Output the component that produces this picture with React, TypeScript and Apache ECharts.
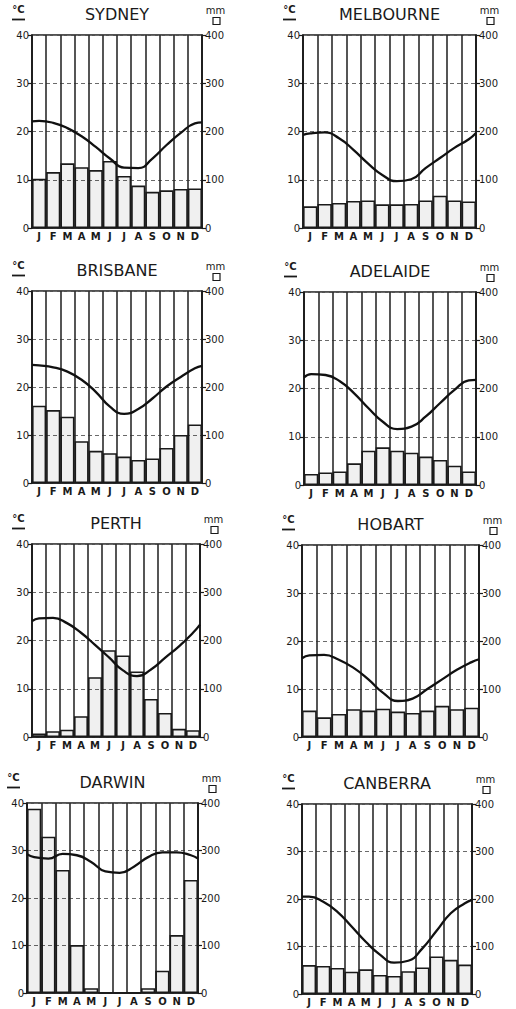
import React, { useEffect, useRef } from 'react';
import * as echarts from 'echarts';

const months = ['J', 'F', 'M', 'A', 'M', 'J', 'J', 'A', 'S', 'O', 'N', 'D'];

const sydneyRain = [102, 116, 134, 126, 120, 139, 108, 88, 75, 78, 81, 82];
const sydneyTemp = [22.2, 21.8, 20.7, 19.0, 16.8, 14.4, 12.5, 12.4, 14.4, 17.2, 19.7, 21.7];
const sydneyEnds = [22.1, 21.9];

const melbourneRain = [45, 50, 52, 56, 57, 49, 49, 50, 57, 67, 57, 55];
const melbourneTemp = [19.6, 19.8, 18.6, 16.2, 13.4, 11.0, 9.7, 10.1, 12.4, 14.5, 16.6, 18.4];
const melbourneEnds = [19.3, 19.7];

const brisbaneRain = [161, 152, 138, 87, 67, 62, 55, 48, 51, 73, 100, 122];
const brisbaneTemp = [24.5, 24.1, 23.2, 21.5, 19.0, 15.9, 14.4, 15.4, 17.6, 20.1, 22.1, 23.9];
const brisbaneEnds = [24.6, 24.4];

const adelaideRain = [23, 26, 28, 45, 71, 78, 71, 67, 59, 52, 40, 28];
const adelaideTemp = [23.0, 22.8, 21.5, 19.0, 15.9, 13.1, 11.6, 12.1, 14.2, 17.0, 19.7, 21.7];
const adelaideEnds = [22.3, 21.8];

const perthRain = [7, 12, 15, 43, 124, 180, 169, 136, 79, 50, 17, 14];
const perthTemp = [24.6, 24.7, 23.6, 21.6, 19.1, 16.5, 13.8, 12.6, 14.0, 16.4, 18.8, 21.6];
const perthEnds = [24.0, 23.3];

const hobartRain = [55, 41, 48, 58, 55, 59, 53, 50, 55, 65, 58, 61];
const hobartTemp = [17.0, 17.1, 16.1, 14.4, 12.0, 9.2, 7.5, 8.0, 10.0, 12.0, 14.0, 15.6];
const hobartEnds = [16.4, 16.2];

const darwinRain = [388, 329, 259, 101, 10, 0, 0, 0, 10, 47, 122, 238];
const darwinTemp = [28.6, 28.3, 29.3, 29.0, 27.6, 25.6, 25.3, 26.6, 28.6, 29.6, 29.6, 29.0];
const darwinEnds = [29.2, 28.3];

const canberraRain = [61, 59, 55, 47, 52, 40, 38, 48, 56, 79, 72, 62];
const canberraTemp = [20.5, 19.4, 17.3, 14.2, 11.0, 8.3, 6.6, 7.0, 9.6, 13.3, 17.0, 19.1];
const canberraEnds = [20.5, 19.8];

const cities = [
  { name: 'SYDNEY', rain: sydneyRain, temp: sydneyTemp, ends: sydneyEnds },
  { name: 'MELBOURNE', rain: melbourneRain, temp: melbourneTemp, ends: melbourneEnds },
  { name: 'BRISBANE', rain: brisbaneRain, temp: brisbaneTemp, ends: brisbaneEnds },
  { name: 'ADELAIDE', rain: adelaideRain, temp: adelaideTemp, ends: adelaideEnds },
  { name: 'PERTH', rain: perthRain, temp: perthTemp, ends: perthEnds },
  { name: 'HOBART', rain: hobartRain, temp: hobartTemp, ends: hobartEnds },
  { name: 'DARWIN', rain: darwinRain, temp: darwinTemp, ends: darwinEnds },
  { name: 'CANBERRA', rain: canberraRain, temp: canberraTemp, ends: canberraEnds },
];

const layouts = [
  { left: 32, top: 35, width: 170, height: 193 },
  { left: 303, top: 35, width: 173, height: 193 },
  { left: 32, top: 291, width: 170, height: 192 },
  { left: 304, top: 292, width: 172, height: 193 },
  { left: 32, top: 544, width: 168, height: 193 },
  { left: 302, top: 545, width: 177, height: 192 },
  { left: 27, top: 803, width: 171, height: 190 },
  { left: 302, top: 804, width: 170, height: 190 },
];

const INK = '#1a1a1a';
const FONT = '"DejaVu Sans", "Noto Sans", sans-serif';

function textEl(text: string, x: number, y: number, font: string) {
  return {
    type: 'text',
    x,
    y,
    silent: true,
    style: {
      text,
      font,
      fill: INK,
      textAlign: 'center',
      textVerticalAlign: 'middle',
      align: 'center',
      verticalAlign: 'middle',
    },
  };
}

export default function App() {
  const ref = useRef<HTMLDivElement>(null);

  useEffect(() => {
    const chart = echarts.init(ref.current!, null, { renderer: 'svg' });
    const grids: any[] = [];
    const xAxes: any[] = [];
    const yAxes: any[] = [];
    const series: any[] = [];
    const graphics: any[] = [];

    cities.forEach((c, i) => {
      const L = layouts[i];
      const right = L.left + L.width;
      grids.push({
        left: L.left,
        top: L.top,
        width: L.width,
        height: L.height,
        show: true,
        borderColor: INK,
        borderWidth: 1.5,
        backgroundColor: 'transparent',
      });
      xAxes.push({
        type: 'category',
        gridIndex: i,
        data: months,
        boundaryGap: true,
        axisLine: { show: true, lineStyle: { color: INK, width: 1.5 } },
        axisTick: { show: false },
        axisLabel: { interval: 0, fontSize: 10, fontWeight: 'bold', color: INK, margin: 3, fontFamily: FONT },
        splitLine: { show: true, interval: 0, lineStyle: { color: '#2b2b2b', width: 1.6 } },
      });
      xAxes.push({ type: 'value', gridIndex: i, min: 0, max: 12, show: false });
      yAxes.push({
        type: 'value',
        gridIndex: i,
        min: 0,
        max: 40,
        interval: 10,
        position: 'left',
        axisLine: { show: true, lineStyle: { color: INK, width: 1.5 } },
        axisTick: { show: true, length: 4, lineStyle: { color: INK, width: 1.2 } },
        axisLabel: { fontSize: 10, color: INK, margin: 3, fontFamily: FONT },
        splitLine: { show: true, lineStyle: { type: [4, 3], color: '#6a6a6a', width: 1 } },
      });
      yAxes.push({
        type: 'value',
        gridIndex: i,
        min: 0,
        max: 400,
        interval: 100,
        position: 'right',
        axisLine: { show: true, lineStyle: { color: INK, width: 1.5 } },
        axisTick: { show: true, length: 4, lineStyle: { color: INK, width: 1.2 } },
        axisLabel: { fontSize: 10, color: INK, margin: 3, fontFamily: FONT },
        splitLine: { show: false },
      });
      series.push({
        type: 'bar',
        xAxisIndex: 2 * i,
        yAxisIndex: 2 * i + 1,
        data: c.rain,
        barCategoryGap: '0%',
        silent: true,
        itemStyle: { color: 'rgba(0,0,0,0.06)', borderColor: INK, borderWidth: 1.6 },
      });
      const lineData: number[][] = [[0, c.ends[0]]];
      c.temp.forEach((t, k) => lineData.push([k + 0.5, t]));
      lineData.push([12, c.ends[1]]);
      series.push({
        type: 'line',
        xAxisIndex: 2 * i + 1,
        yAxisIndex: 2 * i,
        data: lineData,
        smooth: 0.5,
        symbol: 'none',
        silent: true,
        lineStyle: { color: '#111', width: 2.3 },
      });

      graphics.push(textEl(c.name, L.left + L.width / 2, L.top - 20.5, `16px ${FONT}`));
      graphics.push(textEl('°C', L.left - 13.5, L.top - 26, `bold 10px ${FONT}`));
      graphics.push({
        type: 'line',
        silent: true,
        shape: { x1: L.left - 20, y1: L.top - 15.5, x2: L.left - 7, y2: L.top - 15.5 },
        style: { stroke: INK, lineWidth: 1.8 },
      });
      graphics.push(textEl('mm', right + 13.5, L.top - 24.5, `10px ${FONT}`));
      graphics.push({
        type: 'rect',
        silent: true,
        shape: { x: right + 11, y: L.top - 17.5, width: 7, height: 7 },
        style: { fill: '#fff', stroke: INK, lineWidth: 1.2 },
      });
    });

    chart.setOption({
      animation: false,
      backgroundColor: '#ffffff',
      textStyle: { fontFamily: FONT },
      grid: grids,
      xAxis: xAxes,
      yAxis: yAxes,
      series,
      graphic: { elements: graphics },
    });

    return () => chart.dispose();
  }, []);

  return (
    <div
      ref={ref}
      style={{ position: 'absolute', left: 0, top: 0, width: 516, height: 1009, background: '#fff' }}
    />
  );
}
